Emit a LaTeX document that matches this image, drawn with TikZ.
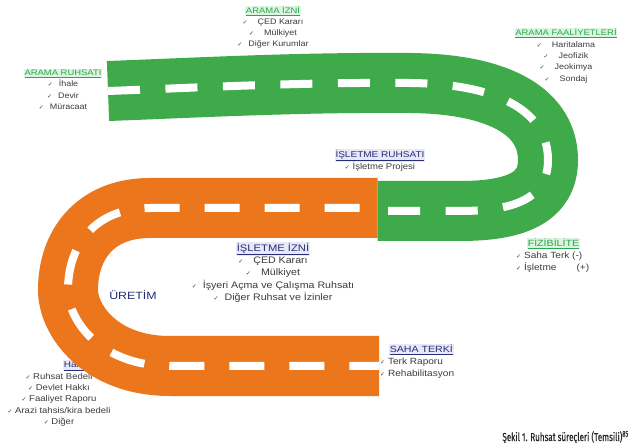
\documentclass[tikz,border=0pt]{standalone}
\usepackage{fontspec}
\setmainfont[FakeStretch=1.12]{Liberation Sans}
\newfontfamily\chkfont{DejaVu Sans}
\newfontfamily\hdfont[FakeStretch=1.18]{Liberation Sans}
\newfontfamily\capfont[FakeStretch=0.7,FakeBold=0.5]{Fira Sans}

\definecolor{roadgreen}{RGB}{62,170,74}
\definecolor{roadorange}{RGB}{236,118,28}
\definecolor{hdgreen}{RGB}{40,168,72}
\definecolor{hdnavy}{RGB}{40,44,120}
\definecolor{glowgreen}{RGB}{222,244,226}
\definecolor{glownavy}{RGB}{232,232,246}
\definecolor{itemgray}{RGB}{60,60,60}

% check mark used in front of every list item
\newcommand\chk{{\chkfont\fontsize{6}{6}\selectfont ✓}}
% underlined headings on a faint highlight
\setlength{\fboxsep}{0.6pt}
\newcommand\hgreen[1]{\colorbox{glowgreen}{\color{hdgreen}\hdfont\underline{#1}}}
\newcommand\hnavy[1]{\colorbox{glownavy}{\color{hdnavy}\hdfont\underline{#1}}}

\tikzset{
  road/.style n args={4}{draw=#1, line width=60pt,
    postaction={draw=white, line width=8pt,
      dash pattern=on #2 off #3, dash phase=#4}},
  items/.style={text=itemgray, inner sep=0pt, align=center,
    font=\fontsize{8}{11.4}\selectfont},
}

\begin{document}
\begin{tikzpicture}[x=1pt,y=-1pt]
\useasboundingbox (0,0) rectangle (637,443);
\fill[white] (0,0) rectangle (637,443);

% fees list sits partly under the road
\node[anchor=base west, inner sep=0pt, font=\fontsize{8.5}{10}\selectfont] (harchd) at (63,367)
  {\hnavy{Harçlar}};
\node[items, anchor=north, font=\fontsize{8.5}{11.3}\selectfont] (harc) at (59,373)
  {\chk\ Ruhsat Bedeli\\ \chk\ Devlet Hakkı\\ \chk\ Faaliyet Raporu\\
   \chk\ Arazi tahsis/kira bedeli\\ \chk\ Diğer};

% exploration road (green) and production road (orange)
\path[road={roadgreen}{32pt}{25.5pt}{0pt}] (108,91) .. controls (190,88) and (300,82) .. (410,83)
  .. controls (505,84) and (548,115) .. (548,160)
  .. controls (548,198) and (515,211) .. (460,211) -- (377.5,211);
\path[road={roadorange}{35pt}{25pt}{42pt}] (377.5,208) -- (150,208)
  .. controls (95,208) and (68,245) .. (68,290)
  .. controls (68,320) and (100,366) .. (170,366) -- (379,366);

% stage labels
\node[items, anchor=north] (ruhsat) at (63,69)
  {\hgreen{ARAMA RUHSATI}\\ \chk\hspace{6pt}İhale\\ \chk\hspace{6pt}Devir\\ \chk\hspace{6pt}Müracaat};
\node[items, anchor=north, font=\fontsize{8}{11}\selectfont] (izin) at (273,6)
  {\hgreen{ARAMA İZNİ}\\ \chk\hspace{10pt}ÇED Kararı\\ \chk\hspace{10pt}Mülkiyet\\ \chk\hspace{6pt}Diğer Kurumlar};
\node[items, anchor=north] (faal) at (566,28)
  {\hgreen{ARAMA FAALİYETLERİ}\\ \chk\hspace{10pt}Haritalama\\ \chk\hspace{10pt}Jeofizik\\
   \chk\hspace{10pt}Jeokimya\\ \chk\hspace{10pt}Sondaj};
\node[items, anchor=north, font=\fontsize{8.5}{12}\selectfont] (isruhsat) at (380,149)
  {\hnavy{İŞLETME RUHSATI}\\ \chk\ İşletme Projesi};
\node[items, anchor=north, font=\fontsize{9.5}{12.4}\selectfont] (isizin) at (273,242)
  {\hnavy{İŞLETME İZNİ}\\ \chk\hspace{10pt}ÇED Kararı\\ \chk\hspace{10pt}Mülkiyet\\
   \chk\hspace{6pt}İşyeri Açma ve Çalışma Ruhsatı\\ \chk\hspace{6pt}Diğer Ruhsat ve İzinler};
\node[items, anchor=north west, align=left, font=\fontsize{9}{12}\selectfont] (fizibilite) at (516,238)
  {\hspace{11pt}\hgreen{FİZİBİLİTE}\\ \chk\ Saha Terk (-)\\ \chk\ İşletme\hspace{20pt}(+)};
\node[items, anchor=north west, align=left, font=\fontsize{9}{12}\selectfont] (terk) at (380,344)
  {\hspace{9pt}\hnavy{SAHA TERKİ}\\ \chk\ Terk Raporu\\ \chk\ Rehabilitasyon};
\node[text=hdnavy, font=\hdfont\fontsize{10.5}{12}\selectfont, inner sep=0pt] (uretim) at (133,295) {ÜRETİM};

% caption
\node[anchor=base east, inner sep=0pt, text=black!85, font=\capfont\fontsize{11.5}{13}\selectfont] (caption)
  at (629,441) {Şekil 1. Ruhsat süreçleri (Temsili)\textsuperscript{85}};
\end{tikzpicture}
\end{document}
